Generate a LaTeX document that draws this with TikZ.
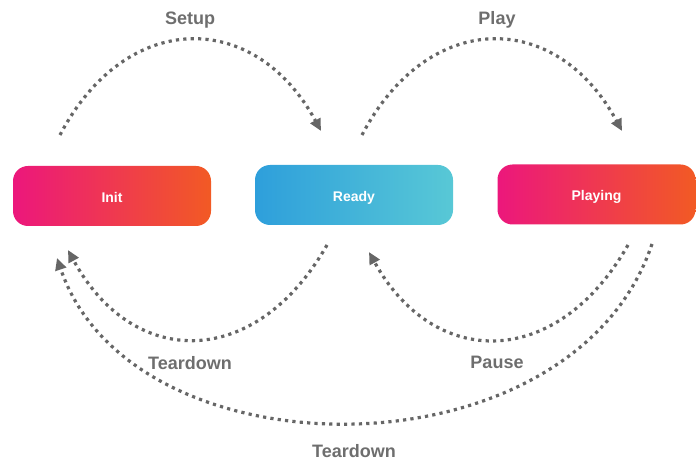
\documentclass[tikz,border=0pt]{standalone}
\usepackage{fontspec}
\setmainfont{Liberation Sans}
\usetikzlibrary{arrows.meta}
\definecolor{cpink}{HTML}{EC177C}
\definecolor{cred}{HTML}{ED2226}
\definecolor{corange}{HTML}{F25A24}
\definecolor{cblue}{HTML}{2E9FDB}
\definecolor{ccyan}{HTML}{58C8D6}
\definecolor{cline}{HTML}{666666}
\definecolor{clabel}{HTML}{6E6E6E}
\begin{document}
\begin{tikzpicture}[x=1pt,y=-1pt,
  state/.style={minimum width=198pt, minimum height=60pt, rounded corners=15pt, text=white,
    font=\fontsize{14}{16}\selectfont\bfseries, inner sep=0pt, text height=13pt, text depth=0pt},
  warm/.style={state, left color=cpink, middle color=cred, right color=corange},
  cool/.style={state, left color=cblue, right color=ccyan},
  flow/.style={draw=cline, line width=3.2pt, dash pattern=on 3.2pt off 4.2pt,
    -{Triangle[length=12pt,width=11pt]}},
  lbl/.style={text=clabel, font=\fontsize{18}{20}\selectfont\bfseries, anchor=base}]
\useasboundingbox (0,0) rectangle (699,462);
\node[warm] (init) at (112,196) {Init};
\node[cool] (ready) at (354,195) {Ready};
\node[warm] (playing) at (596.5,194.5) {Playing};
% connector end points
\coordinate (setupA) at (60,135);
\coordinate (setupB) at (321,131);
\coordinate (playA) at (362,135);
\coordinate (playB) at (622,131);
\coordinate (tearA) at (327,245);
\coordinate (tearB) at (68,250);
\coordinate (pauseA) at (628,245);
\coordinate (pauseB) at (369,252);
\coordinate (bigA) at (652,244);
\coordinate (bigB) at (57,258);
\draw[flow] (setupA) .. controls (126,9) and (255,9) .. (setupB);
\draw[flow] (playA) .. controls (428,9) and (556,9) .. (playB);
\draw[flow] (tearA) .. controls (256,370) and (133,370) .. (tearB);
\draw[flow] (pauseA) .. controls (557,370) and (434,370) .. (pauseB);
\draw[flow] (bigA) .. controls (573,480) and (132,480) .. (bigB);
\node[lbl] (lsetup) at (190,25) {Setup};
\node[lbl] (lplay) at (497,25) {Play};
\node[lbl] (ltear) at (190,370) {Teardown};
\node[lbl] (lpause) at (497,369) {Pause};
\node[lbl] (lbig) at (354,457) {Teardown};
\end{tikzpicture}
\end{document}
